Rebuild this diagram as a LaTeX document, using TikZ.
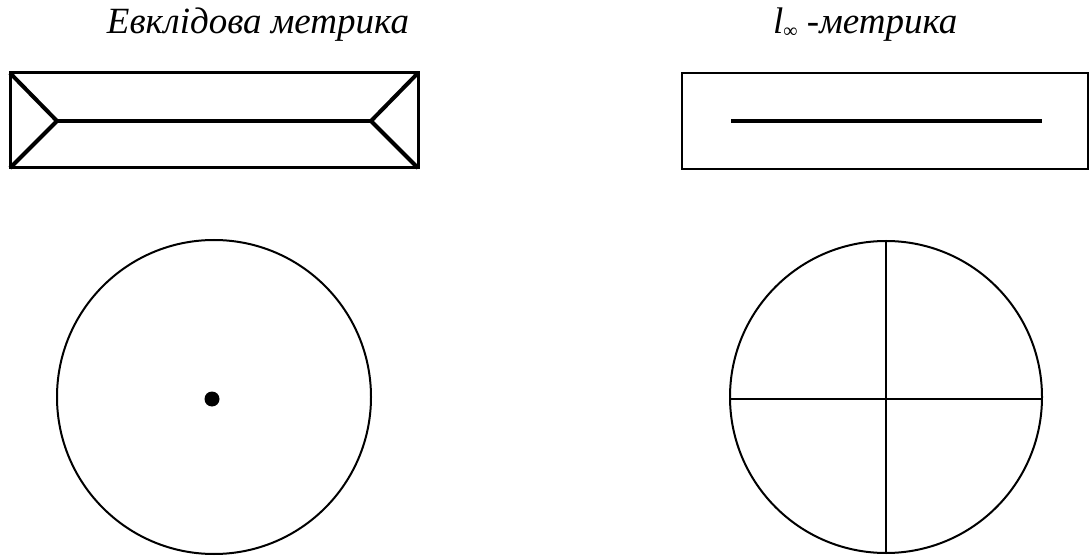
\documentclass[tikz,border=0pt]{standalone}
\usepackage{fontspec}
\setmainfont{Liberation Serif}
\begin{document}
\begin{tikzpicture}[x=1pt,y=-1pt,
  title/.style={font=\fontsize{37}{44}\selectfont\itshape, inner sep=0pt, anchor=base},
  frame/.style={line width=3pt},
  thin frame/.style={line width=2pt},
  bold/.style={line width=4pt},
  ring/.style={draw, circle, line width=2pt, inner sep=0pt, minimum size=#1},
]
\useasboundingbox (0,0) rectangle (1090,556);

% titles
\node[title] (tE) at (258,34) {Евклідова метрика};
\node[title, anchor=base west] (tL) at (773,34) {l\raisebox{-4pt}{\fontsize{20}{20}\selectfont\upshape ∞} -метрика};

% Euclidean rectangle with its medial axis
\coordinate (a1) at (10,73);
\coordinate (a2) at (418,73);
\coordinate (a3) at (418,168);
\coordinate (a4) at (10,168);
\coordinate (m1) at (57,121);
\coordinate (m2) at (371,121);
\draw[frame] (a1) rectangle (a3);
\draw[bold, line join=miter] (a1) -- (m1) -- (a4);
\draw[bold] (m1) -- (m2);
\draw[bold, line join=miter] (a2) -- (m2) -- (a3);

% l-infinity rectangle with its medial axis
\coordinate (b1) at (682,73);
\coordinate (b3) at (1088,169);
\coordinate (n1) at (731,121);
\coordinate (n2) at (1042,121);
\draw[thin frame] (b1) rectangle (b3);
\draw[bold] (n1) -- (n2);

% Euclidean disc: the skeleton is its centre
\node[ring=314pt] (cE) at (214,397) {};
\fill (cE.center) ++(-2,2) circle (7.5);

% l-infinity disc: the skeleton is a cross
\node[ring=312pt] (cL) at (886,397) {};
\draw[line width=2pt] (cL.north) -- (cL.south);
\draw[line width=2pt] (cL.west) ++(0,2) -- ++(312,0);
\end{tikzpicture}
\end{document}
